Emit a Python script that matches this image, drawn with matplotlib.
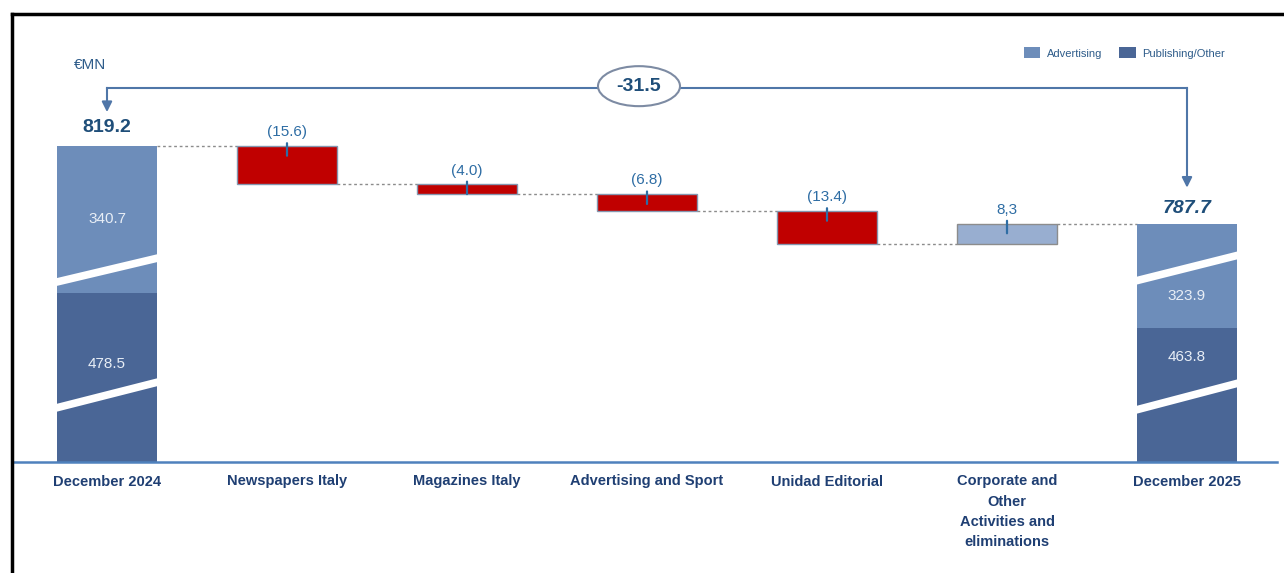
import numpy as np
import matplotlib
matplotlib.use("Agg")
import matplotlib.pyplot as plt
import matplotlib.transforms as mtransforms
from matplotlib.patches import Ellipse
from matplotlib.lines import Line2D

# Datos (€MN)
categories = ["December 2024", "Newspapers Italy", "Magazines Italy",
              "Advertising and Sport", "Unidad Editorial",
              "Corporate and\nOther\nActivities and\neliminations", "December 2025"]
start_adv, start_pub = 340.7, 478.5
end_adv, end_pub = 323.9, 463.8
deltas = [-15.6, -4.0, -6.8, -13.4, 8.3]
delta_labels = ["(15.6)", "(4.0)", "(6.8)", "(13.4)", "8,3"]
total_change = -31.5
start_total = 819.2
end_total = 787.7

C_ADV = "#6d8dba"
C_PUB = "#4a6696"
C_RED = "#c00000"
C_POS = "#98aed0"
C_TXT = "#2e6da4"
C_DARK = "#1f4e79"
C_LINE = "#4f76a8"

levels = start_total + np.cumsum(deltas)
low_level = min(levels)

# escala con "cortes": se comprime la zona sin información
y_knots = [-100, 0, end_pub, start_pub, low_level, start_total, 1000]
y_pix = [-29, 0, 134, 169, 218, 316, 316 + (1000 - start_total) * 2.46]

def fwd(v):
    return np.interp(v, y_knots, y_pix)

def inv(p):
    return np.interp(p, y_pix, y_knots)

plt.rcParams["font.family"] = ["Liberation Sans", "DejaVu Sans"]
NARROW = ["Liberation Sans Narrow", "Liberation Sans", "DejaVu Sans"]

fig = plt.figure(figsize=(12.84, 5.73), dpi=100)
ax = fig.add_axes([13 / 1284, (573 - 462) / 573, 1264 / 1284, 432 / 573])
ax.set_yscale("function", functions=(fwd, inv))
ax.set_xlim(-(107 - 13) / 180, -(107 - 13) / 180 + 1264 / 180)
ax.set_ylim(0, inv(432))

W = 100 / 180
x = np.arange(len(categories))
blend = mtransforms.blended_transform_factory(ax.transData, ax.transAxes)
up2 = mtransforms.offset_copy(ax.transData, fig=fig, y=2, units="points")

# barras totales
b_pub = ax.bar([0, 6], [start_pub, end_pub], width=W, color=C_PUB, label="Publishing/Other", zorder=2)
b_adv = ax.bar([0, 6], [start_adv, end_adv], bottom=[start_pub, end_pub], width=W,
               color=C_ADV, label="Advertising", zorder=2)

# barras flotantes
prev = start_total
for i, (d, lab) in enumerate(zip(deltas, delta_labels), start=1):
    new = prev + d
    col = C_RED if d < 0 else C_POS
    ec = "#8497b0" if d < 0 else "#8c8c8c"
    ax.bar(i, abs(d), bottom=min(prev, new), width=W, color=col, edgecolor=ec, linewidth=1, zorder=2)
    top = max(prev, new)
    ax.annotate("", xy=(i, top), xycoords=up2, xytext=(0, -9), textcoords="offset points",
                arrowprops=dict(arrowstyle="-", color=C_TXT, lw=1.6, shrinkA=0, shrinkB=0), zorder=3)
    ax.annotate(lab, xy=(i, top), xytext=(0, 10), textcoords="offset points",
                ha="center", va="center", fontsize=11, color=C_TXT)
    prev = new

# conectores punteados
conn = [start_total] + list(levels)
for i, lv in enumerate(conn):
    ax.plot([i + W / 2, i + 1 - W / 2], [lv, lv], color="#8c8c8c", lw=1,
            linestyle=(0, (2, 2)), zorder=1)

# marcas de corte en las barras totales
for xc in (0, 6):
    if xc == 0:
        cuts = [(0.414, 0.4745), (0.1227, 0.1875)]
    else:
        cuts = [(0.417, 0.481), (0.118, 0.185)]
    for yl, yr in cuts:
        ax.plot([xc - 0.306, xc + 0.306], [yl, yr], color="white", lw=5.5,
                solid_capstyle="butt", transform=blend, zorder=3)

# etiquetas de segmentos
ax.text(0, 0.5625, f"{start_adv:.1f}", transform=blend, ha="center", va="center", fontsize=11, color="#e8eef6", zorder=4)
ax.text(0, 0.227, f"{start_pub:.1f}", transform=blend, ha="center", va="center", fontsize=11, color="#e8eef6", zorder=4)
ax.text(6, 0.384, f"{end_adv:.1f}", transform=blend, ha="center", va="center", fontsize=11, color="#e8eef6", zorder=4)
ax.text(6, 0.243, f"{end_pub:.1f}", transform=blend, ha="center", va="center", fontsize=11, color="#e8eef6", zorder=4)

# totales
ax.annotate(f"{start_total:.1f}", xy=(0, start_total), xytext=(0, 13), textcoords="offset points",
            ha="center", va="center", fontsize=14, fontweight="bold", color=C_DARK)
ax.annotate(f"{end_total:.1f}", xy=(6, end_total), xytext=(0, 11), textcoords="offset points",
            ha="center", va="center", fontsize=14, fontweight="bold", fontstyle="italic", color=C_DARK)

# flecha de variación total
y_arr = 0.866
ax.plot([0, 6], [y_arr, y_arr], color=C_LINE, lw=1.5, transform=blend, zorder=3)
ax.annotate("", xy=(0, 0.810), xycoords=blend, xytext=(0, y_arr), textcoords=blend,
            arrowprops=dict(arrowstyle="-|>,head_length=0.6,head_width=0.3", color=C_LINE, lw=1.5,
                            shrinkA=0, shrinkB=0))
ax.annotate("", xy=(6, 0.635), xycoords=blend, xytext=(6, y_arr), textcoords=blend,
            arrowprops=dict(arrowstyle="-|>,head_length=0.6,head_width=0.3", color=C_LINE, lw=1.5,
                            shrinkA=0, shrinkB=0))
ell = Ellipse(((639 - 107) / 180, 0.870), 82 / 180, 40 / 432, transform=blend,
              facecolor="white", edgecolor="#7d8ba3", lw=1.5, zorder=4)
ax.add_patch(ell)
ax.text((639 - 107) / 180, 0.870, f"{total_change:.1f}", transform=blend, ha="center", va="center",
        fontsize=14, fontweight="bold", color=C_DARK, zorder=5)

ax.text(-0.094, 0.919, "€MN", transform=blend, ha="center", va="center", fontsize=11, color="#2e5c8a")

# ejes
ax.set_xticks(x)
ax.set_xticklabels(categories, fontsize=10.5, fontweight="bold", color="#1f3f73",
                   family=NARROW, linespacing=1.55, va="top")
ax.tick_params(axis="x", length=0, pad=9)
ax.set_yticks([])
ax.minorticks_off()
for s in ("left", "right", "top"):
    ax.spines[s].set_visible(False)
ax.spines["bottom"].set_color("#4f81bd")
ax.spines["bottom"].set_linewidth(1.8)

fig.legend(handles=[b_adv, b_pub], labels=["Advertising", "Publishing/Other"],
           loc="center right", bbox_to_anchor=(1235 / 1284, 1 - 53 / 573), ncol=2,
           frameon=False, handlelength=1.5, handleheight=1.1,
           columnspacing=1.5, handletextpad=0.6, prop={"family": NARROW, "size": 8},
           labelcolor="#2e5c8a")

# marco
fig.add_artist(Line2D([12 / 1284, 12 / 1284], [0, 1 - 14 / 573], transform=fig.transFigure, color="black", lw=2.5))
fig.add_artist(Line2D([12 / 1284, 1283 / 1284], [1 - 14 / 573, 1 - 14 / 573], transform=fig.transFigure, color="black", lw=2.5))

fig.savefig("out.png", dpi=100)
plt.close()
